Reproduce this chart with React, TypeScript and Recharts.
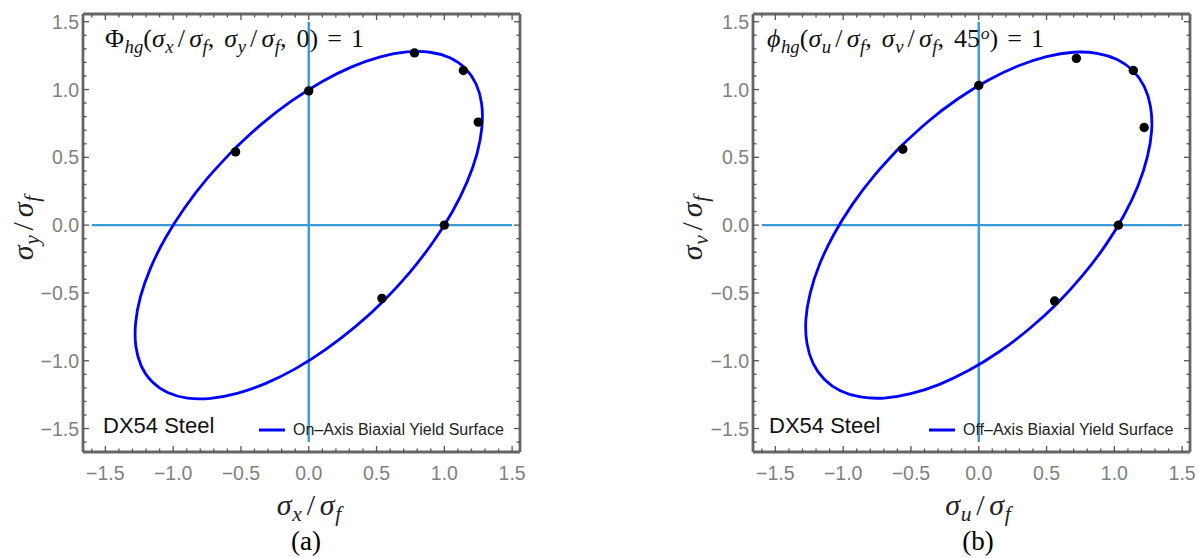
import React from 'react';
import { ScatterChart, Scatter, XAxis, YAxis, ReferenceLine, Legend } from 'recharts';

// ---- data ----
const curveA: [number, number][] = [
  [-0.555, 0.555], [-0.747, 0.346], [-0.916, 0.126], [-1.058, -0.097], [-1.167, -0.317], [-1.241, -0.528],
  [-1.277, -0.723], [-1.275, -0.895], [-1.234, -1.041], [-1.155, -1.155], [-1.041, -1.234], [-0.895, -1.275],
  [-0.723, -1.277], [-0.528, -1.241], [-0.317, -1.167], [-0.097, -1.058], [0.126, -0.916], [0.346, -0.747],
  [0.555, -0.555], [0.747, -0.346], [0.916, -0.126], [1.058, 0.097], [1.167, 0.317], [1.241, 0.528],
  [1.277, 0.723], [1.275, 0.895], [1.234, 1.041], [1.155, 1.155], [1.041, 1.234], [0.895, 1.275],
  [0.723, 1.277], [0.528, 1.241], [0.317, 1.167], [0.097, 1.058], [-0.126, 0.916], [-0.346, 0.747], [-0.555, 0.555],
];
const curveB: [number, number][] = [
  [-0.578, 0.578], [-0.766, 0.371], [-0.932, 0.153], [-1.069, -0.069], [-1.174, -0.289], [-1.243, -0.501],
  [-1.275, -0.697], [-1.267, -0.872], [-1.221, -1.021], [-1.138, -1.138], [-1.021, -1.221], [-0.872, -1.267],
  [-0.697, -1.275], [-0.501, -1.243], [-0.289, -1.174], [-0.069, -1.069], [0.153, -0.932], [0.371, -0.766],
  [0.578, -0.578], [0.766, -0.371], [0.932, -0.153], [1.069, 0.069], [1.174, 0.289], [1.243, 0.501],
  [1.275, 0.697], [1.267, 0.872], [1.221, 1.021], [1.138, 1.138], [1.021, 1.221], [0.872, 1.267],
  [0.697, 1.275], [0.501, 1.243], [0.289, 1.174], [0.069, 1.069], [-0.153, 0.932], [-0.371, 0.766], [-0.578, 0.578],
];
const pointsA: [number, number][] = [
  [-0.54, 0.54], [0.0, 0.99], [0.78, 1.27], [1.14, 1.14], [1.25, 0.76], [1.0, 0.0], [0.54, -0.54],
];
const pointsB: [number, number][] = [
  [-0.56, 0.56], [0.0, 1.03], [0.72, 1.23], [1.14, 1.14], [1.22, 0.72], [1.03, 0.0], [0.56, -0.56],
];
const allTicks = [
  -1.6, -1.5, -1.4, -1.3, -1.2, -1.1, -1.0, -0.9, -0.8, -0.7, -0.6, -0.5, -0.4, -0.3, -0.2, -0.1,
  0, 0.1, 0.2, 0.3, 0.4, 0.5, 0.6, 0.7, 0.8, 0.9, 1.0, 1.1, 1.2, 1.3, 1.4, 1.5,
];
const majorTicks = [-1.5, -1.0, -0.5, 0, 0.5, 1.0, 1.5];
const majorLabels = ['\u22121.5', '\u22121.0', '\u22120.5', '0.0', '0.5', '1.0', '1.5'];
const axisLineH = [{ x: -1.6, y: 0 }, { x: 1.5, y: 0 }];
const axisLineV = [{ x: 0, y: -1.6 }, { x: 0, y: 1.5 }];
const xDomain: [number, number] = [-1.665, 1.558];
const yDomain: [number, number] = [-1.673, 1.557];

// ---- styles ----
const FRAME = '#666666';
const TICK = '#555555';
const LABEL = '#808080';
const SANS = '"Liberation Sans", Arial, sans-serif';
const SERIF = '"Liberation Serif", "DejaVu Serif", serif';
const MAJ = 6;
const MIN = 3.5;
const TICK_FONT = 19.5;

const majorIndex = (v: number) => majorTicks.findIndex((m) => Math.abs(m - v) < 1e-6);

const BottomTick = (p: any) => {
  const i = majorIndex(p.payload.value);
  return (
    <g>
      <line x1={p.x} x2={p.x} y1={p.y} y2={p.y - (i >= 0 ? MAJ : MIN)} stroke={TICK} strokeWidth={1.3} />
      {i >= 0 && (
        <text x={p.x} y={p.y + 21} textAnchor="middle" dominantBaseline="central" fill={LABEL} fontSize={TICK_FONT} fontFamily={SANS}>
          {majorLabels[i]}
        </text>
      )}
    </g>
  );
};
const TopTick = (p: any) => {
  const i = majorIndex(p.payload.value);
  return <line x1={p.x} x2={p.x} y1={p.y} y2={p.y + (i >= 0 ? MAJ : MIN)} stroke={TICK} strokeWidth={1.3} />;
};
const LeftTick = (p: any) => {
  const i = majorIndex(p.payload.value);
  return (
    <g>
      <line x1={p.x} x2={p.x + (i >= 0 ? MAJ : MIN)} y1={p.y} y2={p.y} stroke={TICK} strokeWidth={1.3} />
      {i >= 0 && (
        <text x={p.x - 4} y={p.y} textAnchor="end" dominantBaseline="central" fill={LABEL} fontSize={TICK_FONT} fontFamily={SANS}>
          {majorLabels[i]}
        </text>
      )}
    </g>
  );
};
const RightTick = (p: any) => {
  const i = majorIndex(p.payload.value);
  return <line x1={p.x} x2={p.x - (i >= 0 ? MAJ : MIN)} y1={p.y} y2={p.y} stroke={TICK} strokeWidth={1.3} />;
};

const toData = (arr: [number, number][]) => arr.map(([x, y]) => ({ x, y }));

const Sub = ({ children }: { children: React.ReactNode }) => (
  <span style={{ fontSize: '0.72em', fontStyle: 'italic', position: 'relative', top: '0.3em', marginLeft: '0.03em' }}>{children}</span>
);
const Sup = ({ children }: { children: React.ReactNode }) => (
  <span style={{ fontSize: '0.68em', fontStyle: 'italic', position: 'relative', top: '-0.45em', marginLeft: '0.04em' }}>{children}</span>
);
const I = ({ children }: { children: React.ReactNode }) => <span style={{ fontStyle: 'italic' }}>{children}</span>;

const Ratio = ({ a }: { a: string }) => (
  <span>
    <I>σ</I>
    <Sub>{a}</Sub>
    <span style={{ margin: '0 0.16em' }}>/</span>
    <I>σ</I>
    <Sub>f</Sub>
  </span>
);
const Sp = ({ w }: { w: number }) => <span style={{ display: 'inline-block', width: w }} />;

interface PanelProps {
  left: number;
  width: number;
  plotLeft: number;
  plotRight: number;
  curve: [number, number][];
  points: [number, number][];
  name: string;
}

const Panel = ({ left, width, plotLeft, plotRight, curve, points, name }: PanelProps) => {
  const legendContent = () => (
    <div style={{ display: 'flex', alignItems: 'center', whiteSpace: 'nowrap' }}>
      <svg width={26} height={6} style={{ marginRight: 8 }}>
        <line x1={0} x2={26} y1={3} y2={3} stroke="#0000ff" strokeWidth={3} />
      </svg>
      <span style={{ fontFamily: SANS, fontSize: 16, color: '#222' }}>{name}</span>
    </div>
  );
  return (
    <div style={{ position: 'absolute', left, top: 0, width, height: 558 }}>
      <ScatterChart
        width={width}
        height={558}
        margin={{ top: 13, left: plotLeft - left - 1, right: left + width - plotRight - 1, bottom: 105 }}
      >
        <XAxis xAxisId="b" type="number" dataKey="x" domain={xDomain} ticks={allTicks} interval={0}
          allowDataOverflow height={1} tickSize={0} tickMargin={0} tickLine={false}
          axisLine={{ stroke: FRAME, strokeWidth: 2.8 }} tick={BottomTick} />
        <XAxis xAxisId="t" orientation="top" type="number" dataKey="x" domain={xDomain} ticks={allTicks} interval={0}
          allowDataOverflow height={1} tickSize={0} tickMargin={0} tickLine={false}
          axisLine={{ stroke: FRAME, strokeWidth: 2.8 }} tick={TopTick} />
        <YAxis yAxisId="l" type="number" dataKey="y" domain={yDomain} ticks={allTicks} interval={0}
          allowDataOverflow width={1} tickSize={0} tickMargin={0} tickLine={false}
          axisLine={{ stroke: FRAME, strokeWidth: 2.8 }} tick={LeftTick} />
        <YAxis yAxisId="r" orientation="right" type="number" dataKey="y" domain={yDomain} ticks={allTicks} interval={0}
          allowDataOverflow width={1} tickSize={0} tickMargin={0} tickLine={false}
          axisLine={{ stroke: FRAME, strokeWidth: 2.8 }} tick={RightTick} />
        <ReferenceLine xAxisId="b" yAxisId="l" segment={axisLineH} stroke="#3a9ad8" strokeWidth={2.4} ifOverflow="visible" />
        <ReferenceLine xAxisId="b" yAxisId="l" segment={axisLineV} stroke="#3a9ad8" strokeWidth={2.4} ifOverflow="visible" />
        <Scatter xAxisId="b" yAxisId="l" name={name} data={toData(curve)}
          line={{ stroke: '#0000ff', strokeWidth: 2.8 }} lineJointType="natural" shape={() => <g />}
          isAnimationActive={false} legendType="line" />
        <Scatter xAxisId="b" yAxisId="l" data={toData(points)} fill="#000" legendType="none"
          shape={(p: any) => <circle cx={p.cx} cy={p.cy} r={4.7} fill="#000" />}
          isAnimationActive={false} />
        <Legend layout="horizontal" verticalAlign="middle" align="center" content={legendContent}
          wrapperStyle={{ left: plotLeft + 176 - left, top: 421, width: 'auto', height: 'auto', right: 'auto', bottom: 'auto' }} />
      </ScatterChart>
    </div>
  );
};

const abs = (l: number, t: number, extra: React.CSSProperties = {}): React.CSSProperties => ({
  position: 'absolute', left: l, top: t, whiteSpace: 'nowrap', ...extra,
});

export default function App() {
  return (
    <div style={{ position: 'absolute', left: 0, top: 0, width: 1199, height: 558, background: '#fff', overflow: 'hidden' }}>
      <Panel left={0} width={600} plotLeft={83} plotRight={520} curve={curveA} points={pointsA}
        name={'On\u2013Axis Biaxial Yield Surface'} />
      <Panel left={600} width={599} plotLeft={753} plotRight={1190} curve={curveB} points={pointsB}
        name={'Off\u2013Axis Biaxial Yield Surface'} />

      {/* annotations */}
      <div style={abs(105, 25, { fontFamily: SERIF, fontSize: 26, lineHeight: '28px', color: '#111' })}>
        Φ<Sub>hg</Sub>(<Ratio a="x" />,<Sp w={10} /><Ratio a="y" />,<Sp w={10} />0)<Sp w={9} />=<Sp w={9} />1
      </div>
      <div style={abs(767, 25, { fontFamily: SERIF, fontSize: 26, lineHeight: '28px', color: '#111' })}>
        <I>ϕ</I><Sub>hg</Sub>(<Ratio a="u" />,<Sp w={10} /><Ratio a="v" />,<Sp w={10} />45<Sup>o</Sup>)<Sp w={9} />=<Sp w={9} />1
      </div>

      <div style={abs(103, 413, { fontFamily: SANS, fontSize: 22, lineHeight: '26px', color: '#111' })}>DX54 Steel</div>
      <div style={abs(769, 413, { fontFamily: SANS, fontSize: 22, lineHeight: '26px', color: '#111' })}>DX54 Steel</div>

      {/* axis titles */}
      <div style={abs(309, 505, { fontFamily: SERIF, fontSize: 30, transform: 'translate(-50%,-50%)', color: '#222' })}>
        <Ratio a="x" />
      </div>
      <div style={abs(978, 505, { fontFamily: SERIF, fontSize: 30, transform: 'translate(-50%,-50%)', color: '#222' })}>
        <Ratio a="u" />
      </div>
      <div style={abs(23, 228, { fontFamily: SERIF, fontSize: 30, transform: 'translate(-50%,-50%) rotate(-90deg)', color: '#222' })}>
        <Ratio a="y" />
      </div>
      <div style={abs(692, 228, { fontFamily: SERIF, fontSize: 30, transform: 'translate(-50%,-50%) rotate(-90deg)', color: '#222' })}>
        <Ratio a="v" />
      </div>

      {/* captions */}
      <div style={abs(306, 541, { fontFamily: SERIF, fontSize: 27, transform: 'translate(-50%,-50%)', color: '#000' })}>(a)</div>
      <div style={abs(978, 541, { fontFamily: SERIF, fontSize: 27, transform: 'translate(-50%,-50%)', color: '#000' })}>(b)</div>
    </div>
  );
}
